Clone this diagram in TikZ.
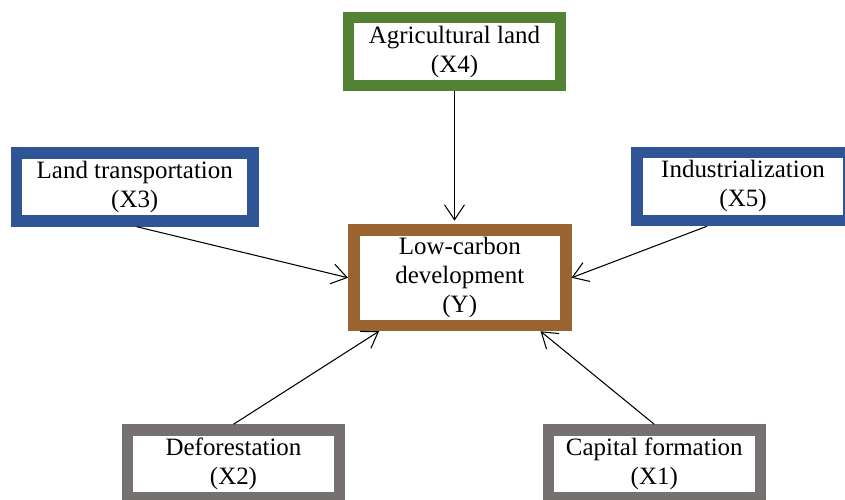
\documentclass[tikz,border=0pt]{standalone}
\usepackage{fontspec}
\setmainfont{Liberation Serif}
\usetikzlibrary{arrows.meta}
\definecolor{AgriGreen}{RGB}{84,130,53}
\definecolor{TransBlue}{RGB}{47,85,151}
\definecolor{ForestGrey}{RGB}{118,113,113}
\definecolor{CarbonBrown}{RGB}{153,100,48}
\begin{document}
\begin{tikzpicture}
[
Box/.style={rectangle, fill=white, line width=0.23cm, inner sep=0pt, align=center, font=\fontsize{14.2}{16.5}\selectfont, minimum width=4.24cm, minimum height=1.36cm},
Greenbox/.style={Box, draw=AgriGreen},
Bluebox/.style={Box, draw=TransBlue},
Greybox/.style={Box, draw=ForestGrey},
Brownbox/.style={Box, draw=CarbonBrown, minimum height=1.91cm},
Link/.style={-{Straight Barb[length=0.3cm,width=0.4cm]}, draw=black, line width=0.6pt}
]
\useasboundingbox (0,0) rectangle (16.9,10);
\clip (0,0) rectangle (16.9,10);

\node[Brownbox] (Carbon) at (9.195,4.445) {Low-carbon\\development\\(Y)};
\node[Greenbox] (Agri)   at (9.09,8.965)  {Agricultural land\\(X4)};
\node[Bluebox, minimum width=4.73cm] (Trans) at (2.695,6.26) {Land transportation\\(X3)};
\node[Bluebox]  (Indus)  at (14.86,6.27)  {Industrialization\\(X5)};
\node[Greybox]  (Forest) at (4.67,0.72)   {Deforestation\\(X2)};
\node[Greybox]  (Capital) at (13.085,0.72) {Capital formation\\(X1)};

\draw[Link, shorten >=2pt] (Agri.south) -- (Agri.south |- Carbon.north);
\draw[Link] ([xshift=0.04cm]Trans.south) -- (Carbon.west);
\draw[Link] ([xshift=-0.72cm]Indus.south) -- (Carbon.east);
\draw[Link] (Forest.north) -- ([xshift=0.62cm]Carbon.south west);
\draw[Link] (Capital.north) -- ([xshift=-0.62cm]Carbon.south east);
\end{tikzpicture}
\end{document}
